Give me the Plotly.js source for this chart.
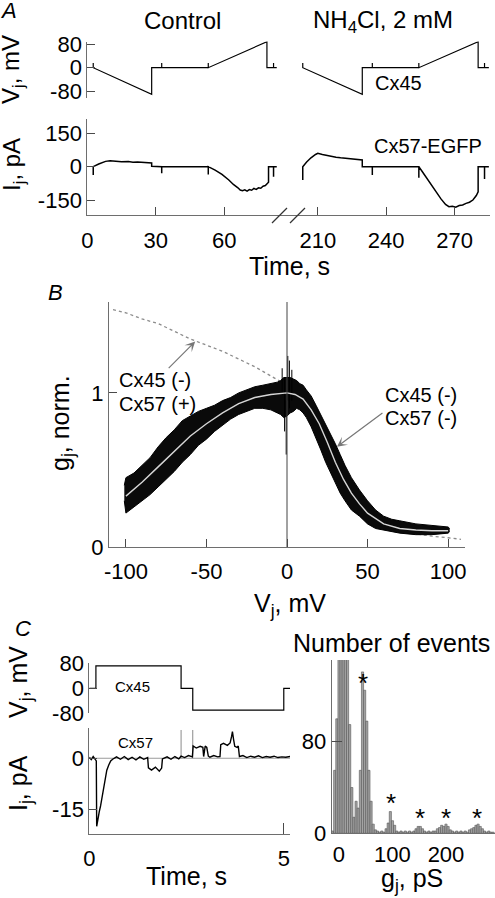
<!DOCTYPE html>
<html><head><meta charset="utf-8">
<script src="https://cdn.plot.ly/plotly-3.0.1.min.js"></script>
<style>html,body{margin:0;padding:0;background:#fff}#chart{width:495px;height:898px}</style>
</head><body><div id="chart"></div>
<script>
// ---------- Panel A : ramp protocol (Vj) and junctional current (Ij) ----------
const ctrlVjT = [2.6,2.6,2.6,28.2,28.2,32.6,32.6,32.6,53,53,53,78.7,78.7,81.6,81.6,81.6,83];
const ctrlVjV = [0,16,0,-91,0,0,16,0,0,16,0,89,0,0,16,0,0];
const nh4VjT  = [203.4,203.4,203.4,229.5,229.5,233.9,233.9,233.9,254.3,254.3,254.3,280.3,280.3,283.1,283.1,283.1,285];
const nh4VjV  = [0,16,0,-91,0,0,16,0,0,16,0,89,0,0,16,0,0];
const ctrlIjT = [2.6,2.6,2.6,5,8,10,12,15,18,20,22,25,27,28.2,28.2,32.6,32.6,32.6,53,53,53,56,59,62,64,66,67,68,69,70,71,72,73,74,75,76,77,78,79.4,79.4,81.6,81.6,81.6,83];
const ctrlIjI = [0,-37,0,12,24,27,24,22,23,20,21,18,19,17,2,0,-30,0,0,-35,0,-15,-35,-60,-80,-95,-105,-108,-104,-110,-103,-106,-98,-102,-95,-97,-88,-85,-70,0,0,-45,0,0];
const nh4IjT  = [203.4,203.4,203.4,205,207,209,210,212,214,216,218,220,222,224,226,228,229.5,229.5,233.9,233.9,233.9,254.3,254.3,254.3,256,258,260,262,264,266,267.5,269,270.5,272,273.5,275,276.5,278,279.5,280.3,280.3,283.1,283.1,283.1,285];
const nh4IjI  = [0,-60,0,20,40,55,60,55,50,46,43,40,38,37,35,33,30,0,0,-37,0,0,-50,0,-25,-55,-85,-120,-145,-170,-180,-178,-182,-175,-172,-165,-160,-150,-130,-113,0,0,-55,0,0];
const timeTicksLeft  = [0,30,60];
const timeTicksRight = [210,240,270];
const vjTicksA = [-80,0,80];
const ijTicksA = [-150,0,150];

// ---------- Panel B : normalized gj vs Vj ----------
const bandV   = [-101,-100,-95,-90,-85,-80,-75,-70,-65,-60,-55,-50,-45,-40,-35,-30,-25,-20,-15,-10,-6,-4,-2,0,2,4,6,8,10,12,15,18,21,24,27,30,33,36,40,45,50,55,60,65,70,80,90,100,101];
const bandUp  = [0.40,0.45,0.48,0.53,0.58,0.65,0.71,0.76,0.82,0.85,0.88,0.90,0.92,0.95,0.97,1.00,1.02,1.04,1.05,1.06,1.07,1.08,1.10,1.10,1.10,1.09,1.08,1.06,1.05,1.02,0.98,0.92,0.86,0.80,0.74,0.67,0.60,0.53,0.45,0.37,0.30,0.24,0.20,0.18,0.17,0.15,0.14,0.13,0.12];
const bandLow = [0.30,0.22,0.26,0.30,0.34,0.39,0.44,0.49,0.55,0.60,0.66,0.70,0.75,0.79,0.83,0.86,0.88,0.90,0.90,0.89,0.87,0.86,0.84,0.85,0.87,0.88,0.90,0.89,0.87,0.84,0.78,0.71,0.63,0.55,0.48,0.41,0.35,0.30,0.24,0.20,0.15,0.12,0.11,0.10,0.09,0.08,0.08,0.09,0.10];
const fitV = [-100,-90,-80,-70,-60,-50,-40,-30,-20,-10,0,5,10,15,20,25,30,35,40,45,50,60,70,80,90,100];
const fitG = [0.33,0.42,0.52,0.62,0.72,0.80,0.87,0.93,0.97,0.99,1.0,0.99,0.96,0.89,0.80,0.68,0.55,0.44,0.35,0.28,0.22,0.15,0.12,0.11,0.105,0.105];
const grayV = [-108,-100,-90,-80,-70,-60,-50,-40,-30,-20,-10,-5,0,5,10,15,20,25,30,35,40,45,50,60,70,80,90,100,108];
const grayG = [1.54,1.52,1.48,1.45,1.40,1.35,1.31,1.27,1.22,1.17,1.11,1.08,1.03,0.98,0.92,0.83,0.72,0.60,0.50,0.38,0.28,0.21,0.16,0.12,0.10,0.085,0.07,0.06,0.05];
const spikeV = [-3,-3,null,-1.5,-1.5,null,-0.5,-0.5,null,0.5,0.5,null,1.5,1.5,null,3,3];
const spikeG = [1.0,1.16,null,0.75,1.1,null,0.6,0.95,null,0.95,1.24,null,0.9,1.21,null,0.95,1.15];
const vjTicksB = [-100,-50,0,50,100];
const gTicksB = [0,1];

// ---------- Panel C : single channel record and histogram ----------
const cVjT = [0,0.17,0.17,2.36,2.36,2.66,2.66,5.0,5.0,5.16];
const cVjV = [0,0,72,72,0,0,-70,-70,0,0];
const cIjT = [0,0.05,0.10,0.15,0.18,0.19,0.21,0.23,0.26,0.29,0.32,0.35,0.38,0.41,0.45,0.50,0.55,0.60,0.70,0.80,0.90,1.00,1.10,1.20,1.30,1.40,1.50,1.52,1.60,1.70,1.80,1.86,1.88,2.00,2.10,2.20,2.30,2.36,2.45,2.55,2.65,2.67,2.75,2.85,2.92,2.94,2.98,3.02,3.06,3.10,3.20,3.30,3.36,3.38,3.45,3.55,3.62,3.66,3.68,3.71,3.74,3.80,3.83,3.86,3.95,4.05,4.15,4.25,4.35,4.45,4.55,4.65,4.75,4.85,4.95,5.05,5.16];
const cIjI = [0.3,-0.4,0.5,-0.3,-0.8,-20,-18.5,-17,-15.5,-14,-12,-10,-7.5,-5.5,-3.5,-2,-0.8,-0.3,0.4,-0.3,0.5,-0.4,0.3,-0.5,0.4,-0.3,0.2,-2.8,-3.5,-2.6,-3.8,-2.9,-0.2,0.4,-0.3,0.5,-0.2,0.6,0.2,0.8,0.4,3.6,3.0,3.5,3.2,0.5,3.6,3.2,0.6,0.3,0.8,0.4,0.5,4.0,4.4,3.8,4.5,6.5,7.8,5.5,3.5,3.2,3.6,0.5,0.8,0.2,0.6,0.3,0.7,0.2,0.5,0.3,0.6,0.2,0.4,0.3,0.5];
const cSpikeT = [2.36,2.36,null,2.66,2.66];
const cSpikeI = [0,8.3,null,0,8.3];
const histX = [-12,-8,-4,0,4,8,12,16,20,24,28,32,36,40,44,48,52,56,60,64,68,72,76,80,84,88,92,96,100,104,108,112,116,120,124,128,132,136,140,144,148,152,156,160,164,168,172,176,180,184,188,192,196,200,204,208,212,216,220,224,228,232,236,240,244,248,252,256,260,264,268,272,276,280,284,288];
const histN = [2,55,100,220,260,250,210,170,95,40,14,28,22,55,141,125,98,55,28,8,3,2,1,2,1,4,9,19,11,7,2,1,2,1,2,1,2,1,2,4,6,6,4,2,1,2,1,2,2,4,5,7,6,8,6,3,2,1,2,1,2,1,2,1,3,4,5,7,8,6,4,2,1,2,1,1];
const starPS = [45,98,151,200,258];
const cTimeTicks = [0,5];
const cVjTicks = [-80,0,80];
const cIjTicks = [-15,0];
const histXTicks = [0,100,200];
const histYTicks = [0,80];

// ---------- layout helpers ----------
const W = 495, H = 898;
const FONT = 'Liberation Sans, Arial, Helvetica, sans-serif';
const PX = v => v / W;
const PY = v => 1 - v / H;
const ydom = (top, bottom) => [1 - bottom / H, 1 - top / H];
const fmt = v => String(v);
function axis(o) {
  return Object.assign({
    showgrid:false, zeroline:false, showline:true, linecolor:'#6e6e6e', linewidth:1,
    ticks:'inside', ticklen:8, tickcolor:'#4a4a4a', tickwidth:1,
    tickfont:{size:22, color:'#000', family:FONT}, tickmode:'array', fixedrange:true
  }, o);
}
function note(x, y, text, size, extra) {
  return Object.assign({xref:'paper', yref:'paper', x:PX(x), y:PY(y), text:text, showarrow:false,
    xanchor:'center', yanchor:'middle', font:{family:FONT, size:size, color:'#000'}}, extra || {});
}

const blk = {color:'#000', width:1.2};
const traces = [
  // A
  {x:ctrlVjT, y:ctrlVjV, xaxis:'x', yaxis:'y', mode:'lines', line:blk},
  {x:nh4VjT, y:nh4VjV, xaxis:'x2', yaxis:'y', mode:'lines', line:blk},
  {x:ctrlIjT, y:ctrlIjI, xaxis:'x', yaxis:'y2', mode:'lines', line:{color:'#000', width:1.5}},
  {x:nh4IjT, y:nh4IjI, xaxis:'x2', yaxis:'y2', mode:'lines', line:{color:'#000', width:1.5}},
  // B
  {x:grayV, y:grayG, xaxis:'x3', yaxis:'y3', mode:'lines', line:{color:'#8c8c8c', width:1.3, dash:'dot'}},
  {x:bandV, y:bandLow, xaxis:'x3', yaxis:'y3', mode:'lines', line:{color:'#000', width:1}},
  {x:bandV, y:bandUp, xaxis:'x3', yaxis:'y3', mode:'lines', line:{color:'#000', width:1}, fill:'tonexty', fillcolor:'#0a0a0a'},
  {x:spikeV, y:spikeG, xaxis:'x3', yaxis:'y3', mode:'lines', line:{color:'#000', width:1}},
  {x:fitV, y:fitG, xaxis:'x3', yaxis:'y3', mode:'lines', line:{color:'#d6d6d6', width:1.4}},
  // C left
  {x:cVjT, y:cVjV, xaxis:'x4', yaxis:'y4', mode:'lines', line:blk},
  {x:[0,5.16], y:[0,0], xaxis:'x4', yaxis:'y5', mode:'lines', line:{color:'#9a9a9a', width:1.2}},
  {x:cSpikeT, y:cSpikeI, xaxis:'x4', yaxis:'y5', mode:'lines', line:{color:'#8a8a8a', width:1}},
  {x:cIjT, y:cIjI, xaxis:'x4', yaxis:'y5', mode:'lines', line:{color:'#000', width:1.4}},
  // C right histogram
  {x:histX, y:histN, xaxis:'x5', yaxis:'y6', type:'bar', width:4,
   marker:{color:'#a4a4a4', line:{color:'#555', width:0.6}}}
];

const annotations = [
  note(8, 10, '<i>A</i>', 22),
  note(13, 70, 'V<sub>j</sub>, mV', 24, {textangle:-90}),
  note(13, 165, 'I<sub>j</sub>, pA', 24, {textangle:-90}),
  note(182, 20, 'Control', 24),
  note(383, 21, 'NH<sub>4</sub>Cl, 2 mM', 24),
  note(398, 83, 'Cx45', 20),
  note(428, 146, 'Cx57-EGFP', 20),
  note(289, 266, 'Time, s', 25),
  note(55, 292, '<i>B</i>', 22),
  note(62, 423, 'g<sub>j</sub>, norm.', 25, {textangle:-90}),
  note(290, 605, 'V<sub>j</sub>, mV', 25),
  note(155, 380, 'Cx45 (-)', 20),
  note(157, 404, 'Cx57 (+)', 20),
  note(421, 395, 'Cx45 (-)', 20),
  note(421, 418, 'Cx57 (-)', 20),
  {xref:'x3', yref:'y3', x:-57, y:1.333, ax:-28, ay:28, text:'', showarrow:true,
   arrowhead:3, arrowsize:1.4, arrowwidth:1.2, arrowcolor:'#777'},
  {xref:'x3', yref:'y3', x:31, y:0.65, ax:47, ay:-35, text:'', showarrow:true,
   arrowhead:3, arrowsize:1.4, arrowwidth:1.2, arrowcolor:'#777'},
  note(23, 628, '<i>C</i>', 22),
  note(20, 682, 'V<sub>j</sub>, mV', 25, {textangle:-90}),
  note(20, 783, 'I<sub>j</sub>, pA', 25, {textangle:-90}),
  note(132, 686, 'Cx45', 15),
  note(135, 742, 'Cx57', 15),
  note(186, 876, 'Time, s', 25),
  note(391, 643, 'Number of events', 25),
  note(412, 880, 'g<sub>j</sub>, pS', 25)
];
const starY = [683, 803, 818, 818, 818];
starPS.forEach((s, i) => {
  annotations.push({xref:'x5', yref:'paper', x:s, y:PY(starY[i]), text:'*', showarrow:false,
    xanchor:'center', yanchor:'middle', font:{family:FONT, size:26, color:'#000'}});
});

const shapes = [
  {type:'line', xref:'x3', yref:'y3 domain', x0:0, x1:0, y0:0, y1:1, line:{color:'#444', width:1}},
  {type:'line', xref:'paper', yref:'paper', x0:PX(272), x1:PX(287), y0:PY(223), y1:PY(208), line:{color:'#333', width:1.2}},
  {type:'line', xref:'paper', yref:'paper', x0:PX(290), x1:PX(305), y0:PY(223), y1:PY(208), line:{color:'#333', width:1.2}}
];

const layout = {
  width:W, height:H, margin:{l:0, r:0, t:0, b:0}, showlegend:false,
  paper_bgcolor:'#fff', plot_bgcolor:'rgba(0,0,0,0)', bargap:0,
  font:{family:FONT, color:'#000'},
  xaxis: axis({domain:[PX(87.3), PX(289.3)], range:[0,88.5], anchor:'y2', ticklabelstandoff:6, tickvals:timeTicksLeft, ticktext:timeTicksLeft.map(fmt)}),
  xaxis2: axis({domain:[PX(289.3), PX(490)], range:[197.5,285.5], anchor:'y2', ticklabelstandoff:6, tickvals:timeTicksRight, ticktext:timeTicksRight.map(fmt)}),
  yaxis: axis({domain:ydom(41.5, 97.5), range:[-102.2, 89.8], anchor:'x', tickvals:vjTicksA, ticktext:vjTicksA.map(fmt)}),
  yaxis2: axis({domain:ydom(119.3, 215), range:[-217.4, 213.3], anchor:'x', tickvals:ijTicksA, ticktext:ijTicksA.map(fmt)}),
  xaxis3: axis({domain:[PX(109), PX(465)], range:[-110.5,110.5], anchor:'y3', ticklabelstandoff:5, tickvals:vjTicksB, ticktext:vjTicksB.map(fmt)}),
  yaxis3: axis({domain:ydom(302, 547), range:[0,1.59], anchor:'x3', tickvals:gTicksB, ticktext:gTicksB.map(fmt)}),
  xaxis4: axis({domain:[PX(89.3), PX(290)], range:[0,5.16], anchor:'y5', ticklen:11, ticklabelstandoff:4, tickvals:cTimeTicks, ticktext:cTimeTicks.map(fmt)}),
  yaxis4: axis({domain:ydom(663.3, 713.3), range:[-80,80], anchor:'x4', tickvals:cVjTicks, ticktext:cVjTicks.map(fmt)}),
  yaxis5: axis({domain:ydom(728.3, 834.3), range:[-22.35,8.8], anchor:'x4', tickvals:cIjTicks, ticktext:cIjTicks.map(fmt)}),
  xaxis5: axis({domain:[PX(331.7), 1], range:[-13.6,291.6], anchor:'y6', ticks:'', ticklabelstandoff:1, tickvals:histXTicks, ticktext:histXTicks.map(fmt)}),
  yaxis6: axis({domain:ydom(660, 833.3), range:[0,151.4], anchor:'x5', ticklen:10, tickvals:histYTicks, ticktext:histYTicks.map(fmt)}),
  annotations: annotations,
  shapes: shapes
};

Plotly.newPlot('chart', traces, layout, {staticPlot:true, displayModeBar:false});
</script>
</body></html>
